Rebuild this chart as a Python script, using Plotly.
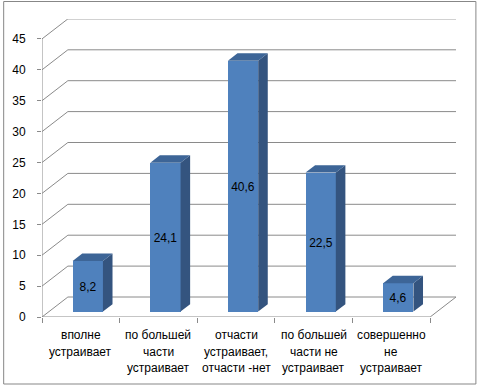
import plotly.graph_objects as go

categories = [
    ["вполне", "устраивает"],
    ["по большей", "части", "устраивает"],
    ["отчасти", "устраивает,", "отчасти -нет"],
    ["по большей", "части не", "устраивает"],
    ["совершенно", "не", "устраивает"],
]
values = [8.2, 24.1, 40.6, 22.5, 4.6]
value_labels = ["8,2", "24,1", "40,6", "22,5", "4,6"]
y_ticks = [0, 5, 10, 15, 20, 25, 30, 35, 40, 45]

# pseudo-3D geometry (in axis units)
DX = 26 / 78.0          # depth shift along x (category units)
DY = 20 / 6.18          # depth shift along y (value units)
D0, D1 = 0.27, 0.64     # bar front / back depth fractions
W = 0.39                # bar width
Y_TOP = 48.22
N = len(values)

FRONT = "#4F81BD"
SIDE = "#34547F"
TOP = "#3D6597"
GRID = "#8A8A8A"
FONT = "Liberation Sans, Arial, sans-serif"

fig = go.Figure()

# front faces (bars)
xs = [i + D0 * DX for i in range(N)]
fig.add_trace(go.Bar(
    x=xs, y=values, base=[D0 * DY] * N, width=W,
    marker=dict(color=FRONT, line=dict(width=0)),
    text=value_labels, textposition="inside", insidetextanchor="middle",
    textangle=0, constraintext="none",
    textfont=dict(family=FONT, size=12, color="#000000"),
    hoverinfo="skip", showlegend=False,
))

# side and top faces
sx, sy, tx, ty = [], [], [], []
for i, v in enumerate(values):
    xl = i - W / 2
    xr = i + W / 2
    sx += [xr + D0 * DX, xr + D1 * DX, xr + D1 * DX, xr + D0 * DX, xr + D0 * DX, None]
    sy += [D0 * DY, D1 * DY, v + D1 * DY, v + D0 * DY, D0 * DY, None]
    tx += [xl + D0 * DX, xr + D0 * DX, xr + D1 * DX, xl + D1 * DX, xl + D0 * DX, None]
    ty += [v + D0 * DY, v + D0 * DY, v + D1 * DY, v + D1 * DY, v + D0 * DY, None]
fig.add_trace(go.Scatter(x=sx, y=sy, mode="lines", fill="toself", fillcolor=SIDE,
                         line=dict(width=0, color=SIDE), hoverinfo="skip", showlegend=False))
fig.add_trace(go.Scatter(x=tx, y=ty, mode="lines", fill="toself", fillcolor=TOP,
                         line=dict(width=0, color=TOP), hoverinfo="skip", showlegend=False))

shapes = []
x0 = -0.5
x1 = N - 0.5
for t in y_ticks:
    path = f"M {x0} {t} L {x0 + DX} {t + DY} L {x1 + DX} {t + DY}"
    shapes.append(dict(type="path", path=path, xref="x", yref="y", layer="below",
                       line=dict(color=GRID, width=1)))
# floor front edge and right edge
shapes.append(dict(type="path", path=f"M {x0} 0 L {x1} 0 L {x1 + DX} {DY}", xref="x", yref="y",
                   layer="below", line=dict(color=GRID, width=1)))
# front vertical axis line
shapes.append(dict(type="line", x0=x0, x1=x0, y0=0, y1=y_ticks[-1], xref="x", yref="y",
                   layer="below", line=dict(color=GRID, width=1)))
# outer border
shapes.append(dict(type="rect", xref="paper", yref="paper", x0=-38.5 / 416, x1=(476 - 40) / 416,
                   y0=-(384 - 317) / 298, y1=(317 - 1.5) / 298,
                   line=dict(color="#878787", width=1), layer="below"))

annotations = []
for i, lines in enumerate(categories):
    for k, line in enumerate(lines):
        annotations.append(dict(x=i, y=0, xref="x", yref="y", text=line, showarrow=False,
                                xanchor="center", yanchor="middle", yshift=-(18 + 16.5 * k),
                                font=dict(family=FONT, size=12, color="#000000")))

fig.update_layout(
    width=478, height=387,
    margin=dict(l=40, r=22, t=19, b=70),
    paper_bgcolor="white", plot_bgcolor="white",
    shapes=shapes, annotations=annotations,
    bargap=0,
    xaxis=dict(range=[x0, x1 + DX], showgrid=False, zeroline=False, showline=False,
               tickvals=[], showticklabels=False,
               minor=dict(tickvals=[x0 + j for j in range(N + 1)], ticks="outside",
                          ticklen=5, tickcolor=GRID, showgrid=False)),
    yaxis=dict(range=[0, Y_TOP], showgrid=False, zeroline=False, showline=False,
               tickvals=y_ticks, ticktext=[str(t) for t in y_ticks],
               ticks="outside", ticklen=4, tickcolor=GRID, ticklabelstandoff=9,
               tickfont=dict(family=FONT, size=12, color="#000000")),
    font=dict(family=FONT),
)

fig.write_html("out.html", config={"displayModeBar": False},
               post_script="document.body.style.margin='0';")
